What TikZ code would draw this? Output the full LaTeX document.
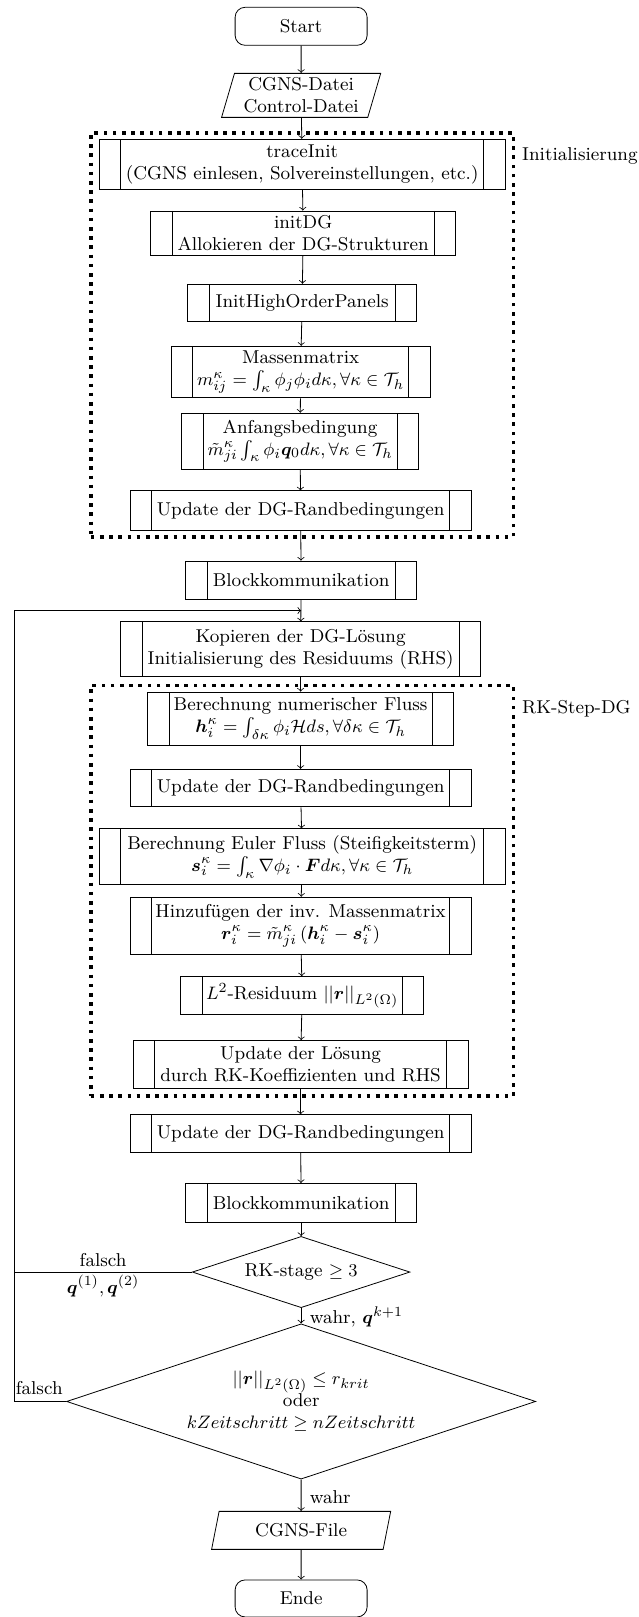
\documentclass[tikz,border=0pt]{standalone}
\usepackage{amsmath,amssymb,bm}
\usetikzlibrary{shapes.geometric,calc}
\tikzset{
  every node/.style={font=\fontsize{9.3}{11}\selectfont},
  proc/.style={draw, rectangle, align=center, inner xsep=1pt, inner ysep=0.5pt,
    path picture={
      \draw ([xshift=10.8pt]path picture bounding box.north west) -- ([xshift=10.8pt]path picture bounding box.south west);
      \draw ([xshift=-10.8pt]path picture bounding box.north east) -- ([xshift=-10.8pt]path picture bounding box.south east);}},
  term/.style={draw, rectangle, rounded corners=5pt, minimum width=66pt, minimum height=19pt},
  io/.style={draw, trapezium, trapezium left angle=72, trapezium right angle=108, align=center,
    trapezium stretches=true, inner xsep=1pt, inner ysep=0pt},
  dec/.style={draw, diamond, align=center, inner sep=0pt},
  grp/.style={draw, line width=1.8pt, dash pattern=on 1.8pt off 2.8pt, inner sep=0pt},
  lbl/.style={inner sep=0pt},
  arr/.style={->}
}
\begin{document}
\begin{tikzpicture}[x=0.5155pt, y=-0.5155pt]
\useasboundingbox (0,0) rectangle (619,1568);

% group frames
\node[grp, minimum width=211.4pt, minimum height=201.8pt] (initgrp) at (293,324.75) {};
\node[grp, minimum width=211.4pt, minimum height=205.4pt] (rkgrp) at (293,863.75) {};
\node[lbl, anchor=west] (initlbl) at (506,151.4) {Initialisierung};
\node[lbl, anchor=west] (rklbl) at (506,687) {RK-Step-DG};

\node[term] (start) at (292,25.5) {Start};
\node[io, minimum width=80pt, minimum height=22pt] (cgns) at (292,92.5) {CGNS-Datei\\Control-Datei};
\node[proc, minimum width=203.1pt, minimum height=25.3pt] (trace) at (293,159.5) {traceInit\\(CGNS einlesen, Solvereinstellungen, etc.)};
\node[proc, minimum width=152.6pt, minimum height=22.4pt] (initdg) at (294,226.3) {initDG\\Allokieren der DG-Strukturen};
\node[proc, minimum width=114.4pt, minimum height=18.8pt] (ihop) at (293,293.8) {InitHighOrderPanels};
\node[proc, minimum width=129.4pt, minimum height=25.8pt] (masse) at (291.5,360.8) {Massenmatrix\\$m_{ij}^{\kappa} = \int_{\kappa} \phi_j \phi_i d\kappa, \forall \kappa \in \mathcal{T}_h$};
\node[proc, minimum width=118.6pt, minimum height=28pt] (anfang) at (291,427.8) {Anfangsbedingung\\$\tilde{m}_{ji}^{\kappa} \int_{\kappa} \phi_i \bm{q}_0 d\kappa, \forall \kappa \in \mathcal{T}_h$};
\node[proc, minimum width=170.6pt, minimum height=19.6pt] (upd1) at (291.5,495) {Update der DG-Randbedingungen};
\node[proc, minimum width=115.5pt, minimum height=19pt] (block1) at (292,562.5) {Blockkommunikation};
\node[proc, minimum width=180pt, minimum height=27.3pt] (kopie) at (291.5,629.5) {Kopieren der DG-Lösung\\Initialisierung des Residuums (RHS)};
\node[proc, minimum width=153pt, minimum height=26.6pt] (numf) at (291.5,696.8) {Berechnung numerischer Fluss\\$\bm{h}_i^{\kappa} = \int_{\delta\kappa} \phi_i \mathcal{H} ds, \forall \delta\kappa \in \mathcal{T}_h$};
\node[proc, minimum width=170.6pt, minimum height=18.8pt] (upd2) at (291.5,764.2) {Update der DG-Randbedingungen};
\node[proc, minimum width=203.1pt, minimum height=27.8pt] (euler) at (293,830.7) {Berechnung Euler Fluss (Steifigkeitsterm)\\$\bm{s}_i^{\kappa} = \int_{\kappa} \nabla\phi_i \cdot \bm{F} d\kappa, \forall \kappa \in \mathcal{T}_h$};
\node[proc, minimum width=170.6pt, minimum height=28.4pt] (hinz) at (291.5,897.5) {Hinzufügen der inv. Massenmatrix\\$\bm{r}_i^{\kappa} = \tilde{m}_{ji}^{\kappa} \left(\bm{h}_i^{\kappa} - \bm{s}_i^{\kappa}\right)$};
\node[proc, minimum width=121.7pt, minimum height=18.8pt] (ltwo) at (293,965.3) {$L^2$-Residuum $||\bm{r}||_{L^2(\Omega)}$};
\node[proc, minimum width=167.5pt, minimum height=23.7pt] (updl) at (291.5,1032) {Update der Lösung\\durch RK-Koeffizienten und RHS};
\node[proc, minimum width=170.6pt, minimum height=18.9pt] (upd3) at (291.5,1099.3) {Update der DG-Randbedingungen};
\node[proc, minimum width=115.5pt, minimum height=19.3pt] (block2) at (292,1166.3) {Blockkommunikation};
\node[dec, shape aspect=3, minimum width=108.8pt, minimum height=35.6pt] (dia1) at (292,1233.5) {RK-stage $\geq 3$};
\node[dec, shape aspect=3, minimum width=234.5pt, minimum height=77.6pt] (dia2) at (292,1359) {$||\bm{r}||_{L^2(\Omega)} \leq r_{krit}$\\oder\\$kZeitschritt \geq nZeitschritt$};
\node[io, minimum width=89.7pt, minimum height=19pt] (cfile) at (292,1484) {CGNS-File};
\node[term, minimum height=18.5pt] (ende) at (292,1550) {Ende};

% main flow
\draw[arr] (start) -- (cgns);
\draw[arr] (cgns) -- (trace);
\draw[arr] (trace) -- (initdg);
\draw[arr] (initdg) -- (ihop);
\draw[arr] (ihop) -- (masse);
\draw[arr] (masse) -- (anfang);
\draw[arr] (anfang) -- (upd1);
\draw[arr] (upd1) -- (block1);
\draw[arr] (block1) -- (kopie);
\draw[arr] (kopie) -- (numf);
\draw[arr] (numf) -- (upd2);
\draw[arr] (upd2) -- (euler);
\draw[arr] (euler) -- (hinz);
\draw[arr] (hinz) -- (ltwo);
\draw[arr] (ltwo) -- (updl);
\draw[arr] (updl) -- (upd3);
\draw[arr] (upd3) -- (block2);
\draw[arr] (block2) -- (dia1);
\draw[arr] (dia1) -- (dia2);
\draw[arr] (dia2) -- (cfile);
\draw[arr] (cfile) -- (ende);

% loop back
\coordinate (loopin) at (292,592);
\coordinate (ltop) at (13.7,592);
\draw[arr] (dia2.west) -- (dia2.west -| ltop) -- (ltop) -- (loopin);
\draw (dia1.west) -- (dia1.west -| ltop);

% labels
\node[lbl] (f1) at (100,1222) {falsch};
\node[lbl] (q12) at (100,1247) {$\bm{q}^{(1)}, \bm{q}^{(2)}$};
\node[lbl] (f2) at (38,1346) {falsch};
\node[lbl, anchor=west] (w1) at (300,1277) {wahr, $\bm{q}^{k+1}$};
\node[lbl, anchor=west] (w2) at (300,1451.7) {wahr};
\end{tikzpicture}
\end{document}
